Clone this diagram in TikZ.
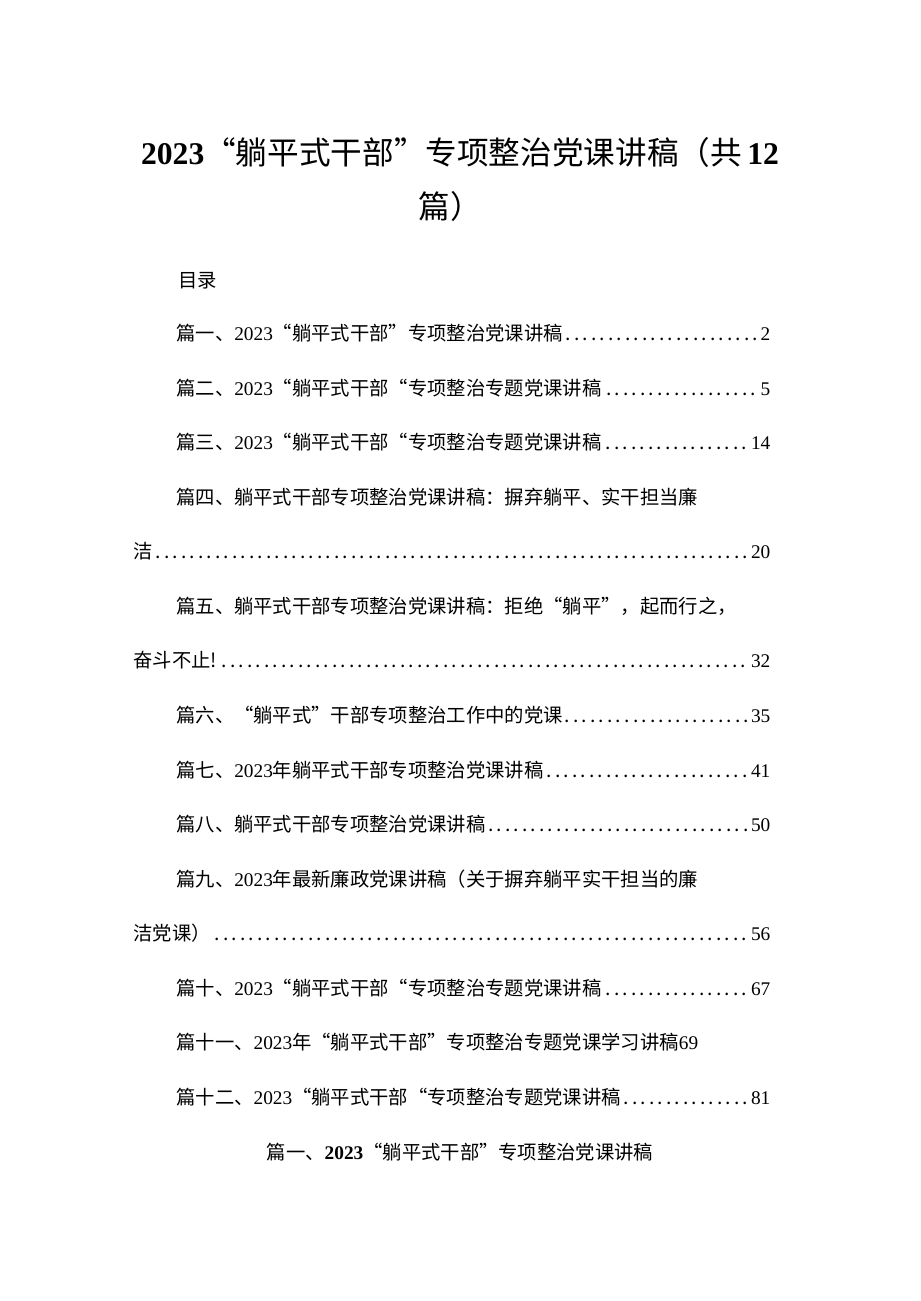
\documentclass[tikz,border=0pt]{standalone}
\usepackage{fontspec}
\setmainfont{Noto Sans CJK SC}
\newfontfamily\numfont{Liberation Serif}
\newcommand{\num}[1]{{\numfont #1}}
\begin{document}
\begin{tikzpicture}[x=0.02cm,y=-0.02cm]
  \tikzset{
    titletext/.style={font=\fontsize{18pt}{22pt}\selectfont, inner sep=0pt},
    tocline/.style={anchor=west, inner sep=0pt, text width=594*0.02cm, align=left,
      font=\fontsize{11pt}{13pt}\selectfont},
    tocwide/.style={tocline, text width=637*0.02cm},
    tocplain/.style={anchor=west, inner sep=0pt, font=\fontsize{11pt}{13pt}\selectfont}
  }
  \useasboundingbox (0,0) rectangle (920,1301);
  % title
  \node[titletext] (title1) at (460,152) {\num{\textbf{2023}}“躺平式干部”专项整治党课讲稿（共\,\num{\textbf{12}}};
  \node[titletext] (title2) at (450,206) {篇）};
  \node[tocplain] (mulu) at (178,281) {目录};
  % entries
  \node[tocline] (p1) at (176,333) {篇一、\num{2023}“躺平式干部”专项整治党课讲稿\dotfill\num{2}};
  \node[tocline] (p2) at (176,388) {篇二、\num{2023}“躺平式干部“专项整治专题党课讲稿\dotfill\num{5}};
  \node[tocline] (p3) at (176,442) {篇三、\num{2023}“躺平式干部“专项整治专题党课讲稿\dotfill\num{14}};
  \node[tocplain] (p4a) at (176,497) {篇四、躺平式干部专项整治党课讲稿：摒弃躺平、实干担当廉};
  \node[tocwide] (p4b) at (133,551) {洁\dotfill\num{20}};
  \node[tocplain] (p5a) at (176,606) {篇五、躺平式干部专项整治党课讲稿：拒绝“躺平”，起而行之，};
  \node[tocwide] (p5b) at (133,660) {奋斗不止!\dotfill\num{32}};
  \node[tocline] (p6) at (176,715) {篇六、“躺平式”干部专项整治工作中的党课\dotfill\num{35}};
  \node[tocline] (p7) at (176,770) {篇七、\num{2023}年躺平式干部专项整治党课讲稿\dotfill\num{41}};
  \node[tocline] (p8) at (176,824) {篇八、躺平式干部专项整治党课讲稿\dotfill\num{50}};
  \node[tocplain] (p9a) at (176,879) {篇九、\num{2023}年最新廉政党课讲稿（关于摒弃躺平实干担当的廉};
  \node[tocwide] (p9b) at (133,933) {洁党课）\dotfill\num{56}};
  \node[tocline] (p10) at (176,988) {篇十、\num{2023}“躺平式干部“专项整治专题党课讲稿\dotfill\num{67}};
  \node[tocplain] (p11) at (176,1042) {篇十一、\num{2023}年“躺平式干部”专项整治专题党课学习讲稿\num{69}};
  \node[tocline] (p12) at (176,1097) {篇十二、\num{2023}“躺平式干部“专项整治专题党课讲稿\dotfill\num{81}};
  % first heading
  \node[tocplain, anchor=center] (head1) at (460,1152) {篇一、\num{\textbf{2023}}“躺平式干部”专项整治党课讲稿};
\end{tikzpicture}
\end{document}
